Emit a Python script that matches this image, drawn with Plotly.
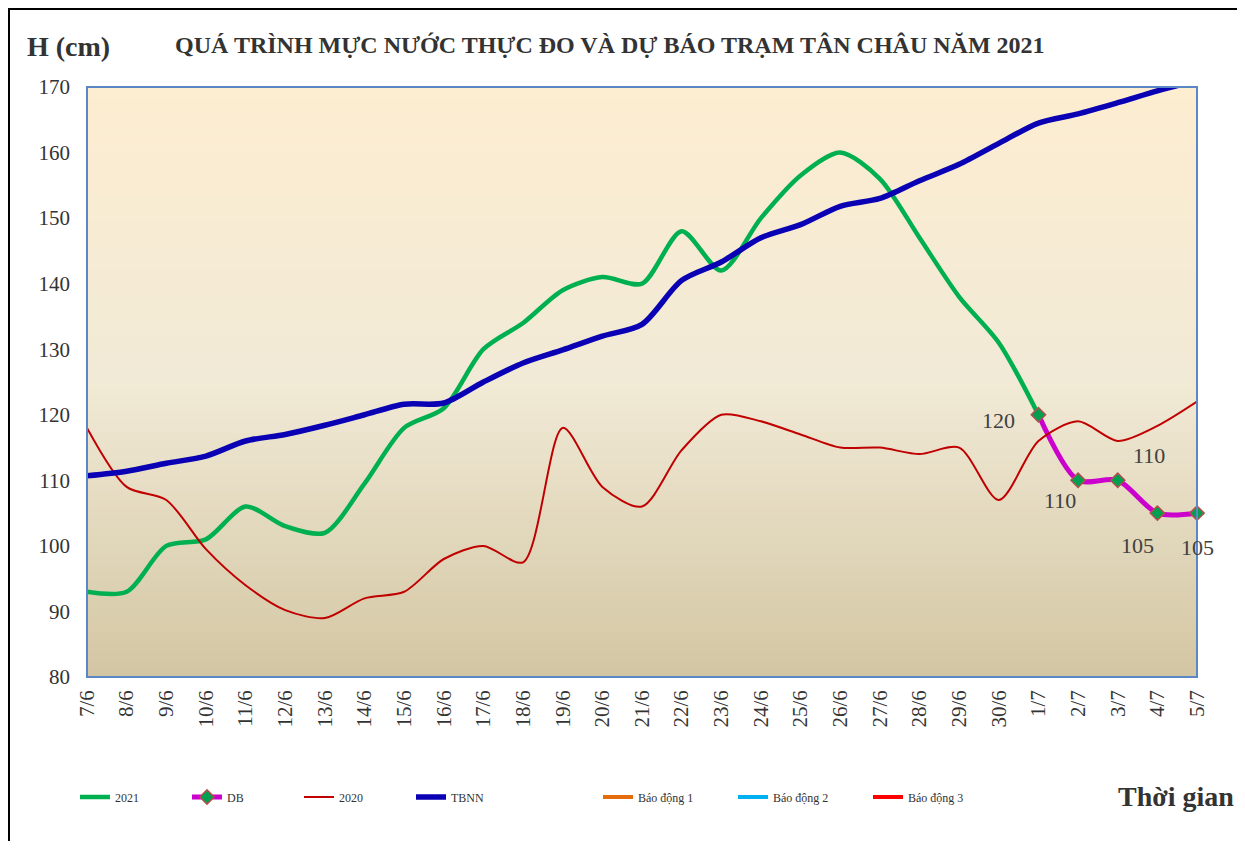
import plotly.graph_objects as go

categories = ["7/6", "8/6", "9/6", "10/6", "11/6", "12/6", "13/6", "14/6", "15/6", "16/6",
              "17/6", "18/6", "19/6", "20/6", "21/6", "22/6", "23/6", "24/6", "25/6", "26/6",
              "27/6", "28/6", "29/6", "30/6", "1/7", "2/7", "3/7", "4/7", "5/7"]

h2021 = [93, 93, 100, 101, 106, 103, 102, 109.5, 118, 121, 130, 134, 139, 141, 140, 148, 142,
         150, 156.5, 160, 156, 147, 138, 131, 120]
db_cats = ["1/7", "2/7", "3/7", "4/7", "5/7"]
db_vals = [120, 110, 110, 105, 105]
h2020 = [118, 109, 107, 99.5, 94, 90.2, 89, 92, 93, 98, 100, 97.5, 118, 109, 106, 114.6, 120,
         119, 117, 115, 115, 114, 115, 107, 116, 119, 116, 118.3, 122]
tbnn = [110.7, 111.4, 112.6, 113.7, 116, 117, 118.4, 120, 121.6, 121.8, 125, 127.9, 129.9, 132,
        133.8, 140.5, 143.3, 147, 149, 151.8, 153, 155.7, 158.2, 161.4, 164.5, 165.9, 167.6,
        169.4, 171]
y_ticks = [80, 90, 100, 110, 120, 130, 140, 150, 160, 170]

# label offsets (pixels) for the DB data labels
db_label_dx = [-40, -18, 31, -20, 0]
db_label_dy = [-6, -20, 25, -32, -34]

SERIF = "Liberation Serif, Times New Roman, serif"

# page has an 8px body margin: work in page coordinates
OFF = 8
W, H = 1245 - 2 * OFF, 849 - 2 * OFF
PL, PR, PT, PB = 87, 1197, 87, 677  # plot area in page pixels
L, R, T, B = PL - OFF, PR - OFF, PT - OFF, PB - OFF


def px(x):
    return (x - PL) / (PR - PL)


def py(y):
    return (PB - y) / (PB - PT)


fig = go.Figure()

fig.add_trace(go.Scatter(x=categories[:len(h2021)], y=h2021, name="2021", mode="lines",
                         line=dict(color="#00B050", width=4.5, shape="spline", smoothing=0.8),
                         legend="legend"))
fig.add_trace(go.Scatter(x=db_cats, y=db_vals, name="DB", mode="lines+markers",
                         cliponaxis=False,
                         line=dict(color="#CC00CC", width=5, shape="spline", smoothing=0.8),
                         marker=dict(symbol="diamond", size=11, color="#00A050",
                                     line=dict(color="#B0504D", width=1.5)),
                         legend="legend"))
fig.add_trace(go.Scatter(x=categories, y=h2020, name="2020", mode="lines",
                         line=dict(color="#C00000", width=2, shape="spline", smoothing=0.8),
                         legend="legend"))
fig.add_trace(go.Scatter(x=categories, y=tbnn, name="TBNN", mode="lines",
                         line=dict(color="#0A00B4", width=5.5, shape="spline", smoothing=0.8),
                         legend="legend"))
for nm, col in [("Báo động 1", "#E46C0A"), ("Báo động 2", "#00B0F0"), ("Báo động 3", "#FF0000")]:
    fig.add_trace(go.Scatter(x=[None], y=[None], name=nm, mode="lines",
                             line=dict(color=col, width=4), legend="legend2"))


def lerp(c1, c2, t):
    return tuple(round(a + (b - a) * t) for a, b in zip(c1, c2))


top = (253, 237, 209)
mid = (241, 234, 214)
bot = (211, 198, 163)
N = 80
shapes = []
for i in range(N):
    t = (i + 0.5) / N
    c = lerp(top, mid, t / 0.5) if t < 0.5 else lerp(mid, bot, (t - 0.5) / 0.5)
    y1 = 1 - i / N
    y0 = 1 - (i + 1) / N
    shapes.append(dict(type="rect", xref="paper", yref="paper", x0=0, x1=1, y0=y0, y1=min(1, y1 + 0.002),
                       fillcolor="rgb(%d,%d,%d)" % c, line=dict(width=0), layer="below"))
shapes.append(dict(type="rect", xref="paper", yref="paper", x0=0, x1=1, y0=0, y1=1,
                   line=dict(color="#5B87C5", width=2), layer="above"))
shapes.append(dict(type="rect", xref="paper", yref="paper", x0=px(9), x1=px(1270), y0=py(880), y1=py(9),
                   line=dict(color="black", width=2), layer="above"))

annotations = [
    dict(text="<b>H (cm)</b>", x=px(68), y=py(46), xref="paper", yref="paper", showarrow=False,
         xanchor="center", yanchor="middle",
         font=dict(family=SERIF, size=28, color="#333333")),
    dict(text="<b>QUÁ TRÌNH MỰC NƯỚC THỰC ĐO VÀ DỰ BÁO TRẠM TÂN CHÂU NĂM 2021</b>",
         x=px(610), y=py(45), xref="paper", yref="paper", showarrow=False,
         xanchor="center", yanchor="middle",
         font=dict(family=SERIF, size=24, color="#333333")),
    dict(text="<b>Thời gian</b>", x=px(1176), y=py(797), xref="paper", yref="paper", showarrow=False,
         xanchor="center", yanchor="middle",
         font=dict(family=SERIF, size=28, color="#333333")),
]
for c, v, dx, dy in zip(db_cats, db_vals, db_label_dx, db_label_dy):
    annotations.append(dict(text=str(v), x=c, y=v, xref="x", yref="y", showarrow=False,
                            xanchor="center", yanchor="middle", xshift=dx, yshift=dy,
                            font=dict(family=SERIF, size=22, color="#404040")))

fig.update_layout(
    width=W, height=H,
    margin=dict(l=L, r=W - R, t=T, b=H - B, pad=0),
    paper_bgcolor="white", plot_bgcolor="rgba(0,0,0,0)",
    shapes=shapes, annotations=annotations,
    font=dict(family=SERIF, color="#333333"),
    legend=dict(orientation="h", x=px(75), y=py(797), xanchor="left", yanchor="middle",
                font=dict(family=SERIF, size=12, color="#333333"), entrywidth=67,
                bgcolor="rgba(0,0,0,0)", itemwidth=30),
    legend2=dict(orientation="h", x=px(598), y=py(797), xanchor="left", yanchor="middle",
                 font=dict(family=SERIF, size=12, color="#333333"), entrywidth=90,
                 bgcolor="rgba(0,0,0,0)", itemwidth=30),
    showlegend=True,
)
fig.update_xaxes(type="category", categoryorder="array", categoryarray=categories,
                 range=[0, len(categories) - 1], tickangle=-90, showgrid=False, zeroline=False,
                 tickfont=dict(family=SERIF, size=21, color="#333333"), ticks="", showline=False,
                 ticklabelstandoff=8)
fig.update_yaxes(range=[80, 170], tickvals=y_ticks, showgrid=False, zeroline=False,
                 tickfont=dict(family=SERIF, size=21, color="#333333"), ticks="", showline=False,
                 ticklabelstandoff=16)

fig.write_html("out.html")
